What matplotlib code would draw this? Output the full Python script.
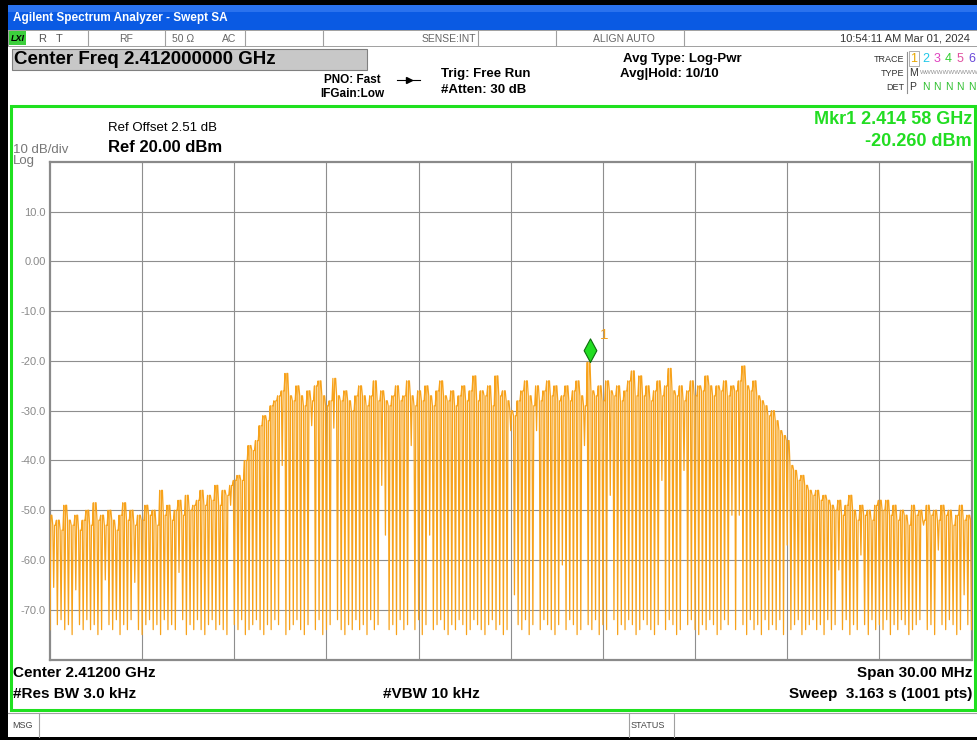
import numpy as np
import matplotlib
matplotlib.use("Agg")
from matplotlib import pyplot as plt
from matplotlib.patches import Rectangle
from matplotlib.lines import Line2D

plt.rcParams['font.family'] = ['Liberation Sans', 'DejaVu Sans']

# sweep settings
f_start = 2.397  # GHz
f_stop = 2.427
n_pts = 1001
marker_idx = 586

y_ticks = [10, 0, -10, -20, -30, -40, -50, -60, -70]
y_tick_labels = ['10.0', '0.00', '-10.0', '-20.0', '-30.0', '-40.0', '-50.0', '-60.0', '-70.0']

# trace tops (dBm), one per swing
hi = [-51, -53, -52, -54, -49, -52, -53, -51, -54, -52,
      -50, -53, -48.5, -52, -51, -53, -50, -52, -54, -51,
      -48.5, -52, -50, -53, -51, -52, -49, -51, -50, -53,
      -46, -51, -49, -52, -50, -48, -51, -47, -50, -49,
      -48, -46, -49, -47, -48, -45, -49, -46, -47, -45,
      -44, -43, -44, -40, -37, -38, -36, -33, -31, -32,
      -29, -28, -27, -26, -22.5, -27, -28, -25, -27, -29,
      -26, -28, -25, -24, -27, -29, -28, -23.5, -27, -28,
      -26, -28, -30, -27, -25, -27, -29, -27, -24, -28,
      -26, -28, -29, -27, -25, -28, -27, -24, -27, -29,
      -26, -28, -25, -27, -29, -26, -24, -27, -28, -26,
      -29, -27, -25, -28, -26, -23, -28, -26, -27, -25,
      -29, -23, -27, -26, -28, -30, -31, -28, -26, -24,
      -27, -29, -25, -28, -26, -24, -27, -25, -28, -27,
      -25, -28, -26, -24, -27, -29, -20.26, -26, -27, -25,
      -28, -24, -26, -27, -25, -28, -26, -24, -22, -27,
      -23, -27, -25, -28, -26, -24, -27, -25, -21.5, -26,
      -27, -25, -28, -26, -24, -27, -25, -26, -23, -25,
      -27, -25, -26, -24, -27, -25, -26, -24, -21, -25,
      -26, -24, -27, -28, -29, -31, -30, -32, -34, -35,
      -36, -41, -42, -44, -43, -45, -46, -47, -46, -48,
      -47, -48, -49, -50, -48, -51, -49, -47, -50, -52,
      -49, -51, -50, -52, -49, -48, -50, -48, -51, -49,
      -52, -50, -51, -53, -49, -51, -50, -52, -49, -51,
      -50, -52, -49, -51, -50, -53, -51, -49, -52, -51,
      -52]

# trace bottoms (dBm)
lo = [-74, -65.5, -73, -72, -74, -73, -75, -66, -73, -74,
      -72, -74, -73, -75, -74, -64, -73, -74, -72, -75,
      -73, -74, -72, -64.5, -74, -75, -73, -72, -74, -73,
      -75, -72, -74, -73, -74, -62.5, -72, -75, -73, -74,
      -72, -74, -75, -73, -72, -74, -73, -74, -75, -49,
      -73, -74, -72, -75, -74, -73, -72, -74, -75, -73,
      -74, -72, -73, -41, -75, -74, -73, -72, -74, -75,
      -73, -33, -74, -72, -75, -74, -73, -33.5, -72, -74,
      -75, -73, -74, -72, -74, -73, -75, -72, -74, -73,
      -45, -55, -74, -73, -75, -72, -74, -73, -37, -74,
      -72, -75, -73, -55, -74, -73, -72, -74, -75, -73,
      -74, -72, -73, -75, -74, -72, -73, -74, -75, -73,
      -72, -74, -73, -75, -74, -34, -67, -73, -74, -72,
      -75, -73, -34, -74, -72, -73, -74, -75, -73, -61,
      -74, -72, -73, -75, -74, -37, -73, -74, -72, -75,
      -73, -74, -47, -72, -75, -73, -74, -72, -73, -75,
      -74, -72, -73, -74, -75, -73, -44, -74, -72, -73,
      -75, -74, -42, -73, -72, -74, -75, -73, -74, -72,
      -73, -75, -74, -72, -73, -51, -74, -51, -73, -75,
      -72, -74, -73, -75, -72, -74, -73, -74, -72, -75,
      -57, -74, -73, -72, -75, -74, -73, -72, -74, -73,
      -75, -72, -74, -73, -62, -74, -72, -75, -73, -74,
      -59, -73, -75, -72, -74, -73, -74, -72, -75, -73,
      -74, -72, -73, -75, -74, -73, -72, -53, -74, -73,
      -75, -58, -73, -74, -72, -73, -75, -74, -67, -73,
      -74]

freq = np.linspace(f_start, f_stop, n_pts)
trace = np.empty(n_pts)
trace[0::4] = lo
trace[1::4] = hi[:250]
trace[2::4] = hi[:250]
trace[3::4] = hi[1:]

W, H = 977, 740
fig = plt.figure(figsize=(W / 100, H / 100), dpi=100)
fig.patch.set_facecolor('white')


def label(x, y, s, size=9, color='black', weight='normal', ha='left', **kw):
    fig.text(x / W, 1 - y / H, s, fontsize=size, color=color, fontweight=weight,
             ha=ha, va='center', **kw)


def box(x0, y0, x1, y1, face='none', edge='none', lw=1.0, z=1):
    fig.add_artist(Rectangle((x0 / W, 1 - y1 / H), (x1 - x0) / W, (y1 - y0) / H,
                             transform=fig.transFigure, facecolor=face,
                             edgecolor=edge, linewidth=lw, zorder=z))


def seg(x0, y0, x1, y1, color='#999999', lw=0.8):
    fig.add_artist(Line2D([x0 / W, x1 / W], [1 - y0 / H, 1 - y1 / H],
                          transform=fig.transFigure, color=color, lw=lw))


# window chrome
box(0, 0, W, 5, face='black')
box(0, 0, 8, H, face='black')
box(0, 737, W, H, face='black')
box(8, 5, W, 30, face='#0a5ae3')
box(8, 5, W, 12, face='#2a72ee')
label(13, 18, 'Agilent Spectrum Analyzer - Swept SA', size=8.5, color='white', weight='bold')

# status row
box(8, 30, W, 46, face='white', edge='#a0a0a0', lw=0.7)
box(9, 31, 26, 45, face='#3ccf3c')
label(11, 38.5, 'LXI', size=6.5, weight='bold', style='italic')
label(38, 38.5, 'R', size=8, color='#555555')
label(56, 38.5, 'T', size=8, color='#555555')
for sx in [88, 165, 245, 323, 478, 556, 684]:
    seg(sx, 31, sx, 45, color='#a0a0a0')
label(126, 38.5, 'RF', size=7.5, color='#666666', ha='center')
label(172, 38.5, '50 \u03a9', size=7.5, color='#666666')
label(222, 38.5, 'AC', size=7.5, color='#666666')
label(476, 38.5, 'SENSE:INT', size=7.5, color='#666666', ha='right')
label(624, 38.5, 'ALIGN AUTO', size=7.5, color='#666666', ha='center')
label(970, 38.5, '10:54:11 AM Mar 01, 2024', size=8, color='#333333', ha='right')

# settings header
box(12, 49, 367, 70, face='#c8c8c8', edge='#808080', lw=0.8)
label(14, 60, 'Center Freq 2.412000000 GHz', size=13.5, weight='bold')
label(352, 80, 'PNO: Fast', size=8.5, weight='bold', ha='center')
label(352, 94, 'IFGain:Low', size=8.5, weight='bold', ha='center')
seg(397, 80, 420, 80, color='black', lw=0.8)
fig.add_artist(Line2D([408.5 / W], [1 - 80 / H], transform=fig.transFigure,
                      marker='>', color='black', markersize=4))
label(441, 74, 'Trig: Free Run', size=9.5, weight='bold')
label(441, 90, '#Atten: 30 dB', size=9.5, weight='bold')
label(623, 59, 'Avg Type: Log-Pwr', size=9.5, weight='bold')
label(620, 74, 'Avg|Hold: 10/10', size=9.5, weight='bold')

label(904, 59, 'TRACE', size=6.5, color='#333333', ha='right')
label(904, 73, 'TYPE', size=6.5, color='#333333', ha='right')
label(904, 87, 'DET', size=6.5, color='#333333', ha='right')
seg(907, 52, 907, 93, color='#909090')
box(909, 51, 919, 66, edge='#a0a0a0', lw=0.6)
trace_cols = ['#e8a800', '#20c8e8', '#e040c0', '#30d030', '#e050a0', '#6848d8']
for k, c in enumerate(trace_cols):
    label(914 + k * 11.5, 59, str(k + 1), size=9, color=c, ha='center')
label(909, 73, 'M', size=7.5, color='#333333')
label(920, 73, 'WWWWWWWWWW', size=4.5, color='#909090')
label(909, 87, 'P', size=7.5, color='#333333')
for k in range(5):
    label(925.5 + k * 11.5, 87, 'N', size=7.5, color='#30c030', ha='center')

# green display frame
box(11, 106, 975, 710, edge='#1fe01f', lw=2.2, z=3)

label(108, 128, 'Ref Offset 2.51 dB', size=9.5)
label(108, 147, 'Ref 20.00 dBm', size=12, weight='bold')
label(13, 150, '10 dB/div', size=9.5, color='#777777')
label(13, 161, 'Log', size=9.5, color='#777777')
label(972, 120, 'Mkr1 2.414 58 GHz', size=13, weight='bold', color='#22dd22', ha='right')
label(972, 142, '-20.260 dBm', size=13, weight='bold', color='#22dd22', ha='right')

label(13, 673, 'Center 2.41200 GHz', size=11, weight='bold')
label(13, 694, '#Res BW 3.0 kHz', size=11, weight='bold')
label(383, 694, '#VBW 10 kHz', size=11, weight='bold')
label(972, 673, 'Span 30.00 MHz', size=11, weight='bold', ha='right')
label(972, 694, 'Sweep  3.163 s (1001 pts)', size=11, weight='bold', ha='right')

# bottom message row
seg(8, 713, W, 713, color='#a0a0a0')
seg(39, 713, 39, 737, color='#a0a0a0')
seg(629, 713, 629, 737, color='#a0a0a0')
seg(674, 713, 674, 737, color='#a0a0a0')
label(12, 725, 'MSG', size=6.5, color='#444444')
label(631, 725, 'STATUS', size=6.5, color='#444444')

# plot area
ax = fig.add_axes([50 / W, 1 - 659.5 / H, 921.5 / W, 497.5 / H])
ax.set_xlim(f_start, f_stop)
ax.set_ylim(-80, 20)
ax.set_xticks(np.linspace(f_start, f_stop, 11)[1:-1])
ax.set_xticklabels([])
ax.set_yticks(y_ticks)
ax.set_yticklabels(y_tick_labels)
ax.tick_params(length=0, labelsize=8, labelcolor='#8a8a8a', pad=3)
ax.grid(True, color='#8e8e8e', lw=0.8)
ax.set_axisbelow(True)
for sp in ax.spines.values():
    sp.set_color('#8a8a8a')
    sp.set_linewidth(1.6)

ax.plot(freq, trace, color='#f7a21b', lw=0.9, zorder=3)

diamond = [(0, 0), (-0.27, 0.5), (0, 1), (0.27, 0.5), (0, 0)]
ax.plot(freq[marker_idx], trace[marker_idx], marker=diamond, markersize=34,
        markerfacecolor='#22dd22', markeredgecolor='#0d6d0d', markeredgewidth=0.8,
        zorder=5, clip_on=False)
ax.annotate('1', xy=(freq[marker_idx], trace[marker_idx]), xytext=(7, 17),
            textcoords='offset points', fontsize=11, color='#f0a020')

fig.savefig('out.png', dpi=100)
